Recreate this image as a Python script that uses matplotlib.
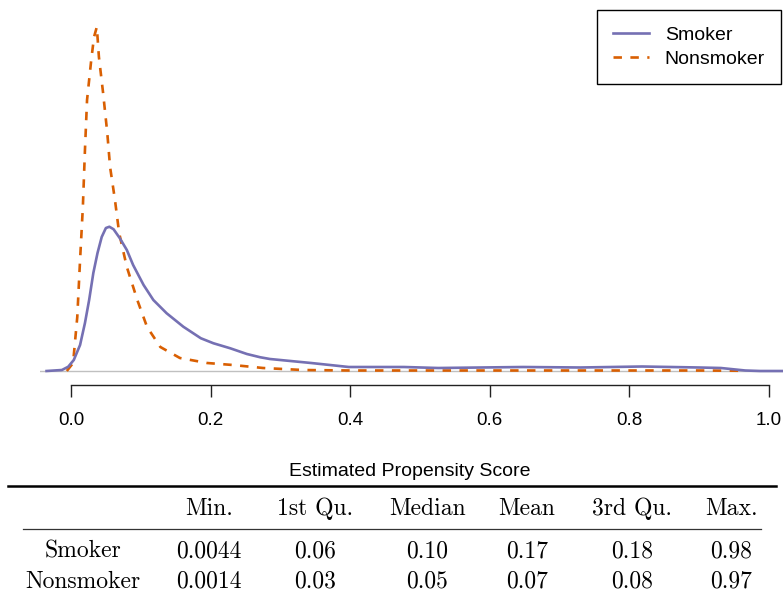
import matplotlib
matplotlib.use('Agg')
import matplotlib.pyplot as plt
from matplotlib.lines import Line2D

# density curves (propensity score, density)
smoker_x = [-0.035, -0.013, -0.004, 0.004, 0.013, 0.020, 0.026, 0.032, 0.038, 0.044,
            0.050, 0.055, 0.061, 0.070, 0.080, 0.089, 0.104, 0.118, 0.137, 0.161,
            0.186, 0.204, 0.228, 0.252, 0.271, 0.285, 0.344, 0.398, 0.477, 0.526,
            0.648, 0.730, 0.818, 0.900, 0.931, 0.966, 0.987, 1.050]
smoker_y = [0.0, 0.04, 0.17, 0.44, 1.04, 1.92, 2.84, 3.92, 4.72, 5.36,
            5.72, 5.77, 5.67, 5.31, 4.84, 4.24, 3.44, 2.84, 2.31, 1.77,
            1.31, 1.11, 0.91, 0.68, 0.55, 0.48, 0.32, 0.16, 0.16, 0.12,
            0.16, 0.14, 0.18, 0.14, 0.12, 0.02, 0.0, 0.0]

nonsmoker_x = [-0.006, 0.003, 0.009, 0.013, 0.017, 0.020, 0.023, 0.029, 0.033, 0.037,
               0.040, 0.046, 0.052, 0.056, 0.063, 0.069, 0.080, 0.095, 0.109, 0.128,
               0.156, 0.195, 0.232, 0.261, 0.275, 0.332, 0.400, 0.500, 0.600, 0.700,
               0.800, 0.900, 0.958]
nonsmoker_y = [0.0, 0.32, 2.16, 4.44, 6.56, 8.84, 10.84, 12.44, 13.36, 13.76,
               12.56, 11.12, 9.52, 8.16, 6.84, 5.52, 4.16, 2.84, 1.76, 0.96,
               0.52, 0.32, 0.24, 0.16, 0.12, 0.04, 0.02, 0.02, 0.02, 0.02,
               0.02, 0.02, 0.01]

xticks = [0.0, 0.2, 0.4, 0.6, 0.8, 1.0]
xticklabels = ['0.0', '0.2', '0.4', '0.6', '0.8', '1.0']

# summary table
col_names = ['Min.', '1st Qu.', 'Median', 'Mean', '3rd Qu.', 'Max.']
row_names = ['Smoker', 'Nonsmoker']
smoker_stats = ['0.0044', '0.06', '0.10', '0.17', '0.18', '0.98']
nonsmoker_stats = ['0.0014', '0.03', '0.05', '0.07', '0.08', '0.97']

purple = '#7570b3'
orange = '#d95f02'

W, H = 783, 598
fig = plt.figure(figsize=(W / 100, H / 100), dpi=100)


def fx(px):
    return px / W


def fy(py):
    return (H - py) / H


ax = fig.add_axes([fx(40), fy(385), 760 / W, 385 / H])
ax.set_xlim(-0.0444, 1.0444)
ax.set_ylim(-0.56, 14.84)

ax.axhline(0, color='#c0c0c0', lw=1.0, zorder=1)
ax.plot(smoker_x, smoker_y, color=purple, lw=1.9, label='Smoker', zorder=3)
ax.plot(nonsmoker_x, nonsmoker_y, color=orange, lw=1.9, dashes=(3.2, 3.2),
        label='Nonsmoker', zorder=2)

for s in ['left', 'top', 'right']:
    ax.spines[s].set_visible(False)
ax.spines['bottom'].set_bounds(0, 1)
ax.spines['bottom'].set_linewidth(1.0)
ax.spines['bottom'].set_color('#222222')
ax.set_yticks([])
ax.set_xticks(xticks)
ax.set_xticklabels(xticklabels, fontfamily='Liberation Sans', fontsize=13.5)
ax.tick_params(axis='x', direction='out', length=8.6, width=1.0, pad=11,
               color='#222222')

leg = ax.legend(loc='upper right', bbox_to_anchor=(fx(781), fy(10)),
                bbox_transform=fig.transFigure, fancybox=False, framealpha=1,
                edgecolor='black', borderaxespad=0, borderpad=0.82,
                handlelength=1.85, handletextpad=0.8, labelspacing=0.36,
                prop={'family': 'Liberation Sans', 'size': 14})
leg.get_frame().set_linewidth(1.0)

fig.text(fx(410), fy(476), 'Estimated Propensity Score', ha='center', va='baseline',
         fontfamily='Liberation Sans', fontsize=14)

fig.add_artist(Line2D([fx(8), fx(776)], [fy(486), fy(486)], color='black', lw=1.8))
fig.add_artist(Line2D([fx(23), fx(761)], [fy(529), fy(529)], color='#333333', lw=0.9))

col_x = [209, 315, 427, 527, 632, 731]
tfont = dict(fontfamily='cmr10', fontsize=17, ha='center', va='baseline')
for x, name in zip(col_x, col_names):
    fig.text(fx(x), fy(515), name, **tfont)
for y, name, vals in zip([558, 588], row_names, [smoker_stats, nonsmoker_stats]):
    fig.text(fx(83), fy(y), name, **tfont)
    for x, v in zip(col_x, vals):
        fig.text(fx(x), fy(y), v, **tfont)

fig.savefig('out.png', dpi=100)
